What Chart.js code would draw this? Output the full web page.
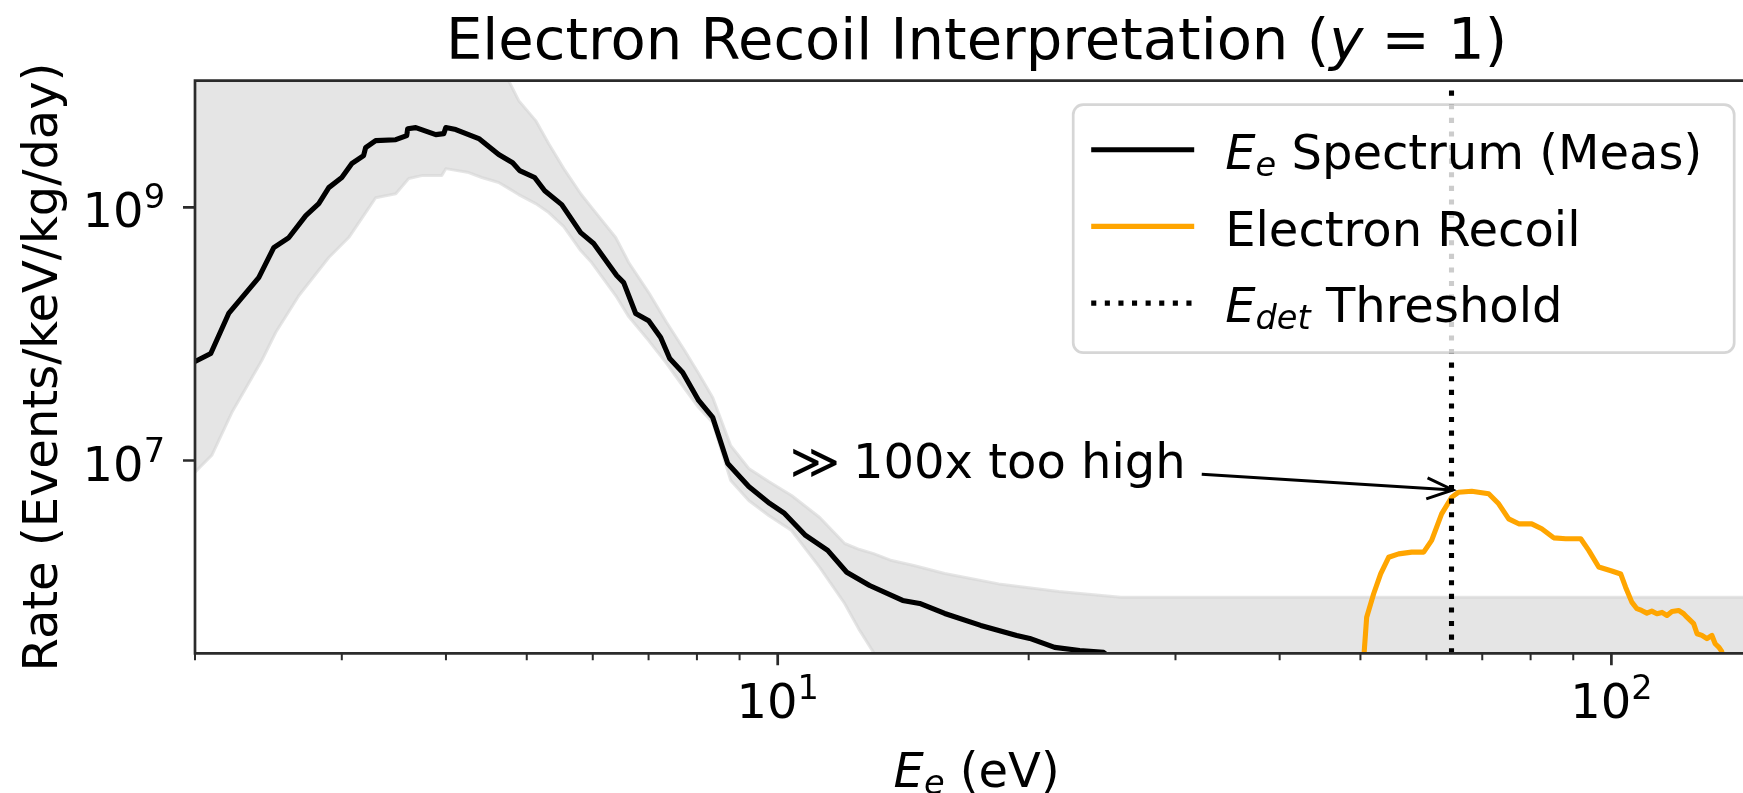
<!DOCTYPE html>
<html>
<head>
<meta charset="utf-8">
<script src="https://cdn.jsdelivr.net/npm/chart.js@4/dist/chart.umd.min.js"></script>
<style>
  html, body { margin: 0; padding: 0; overflow: hidden; background: #fff; }
  #wrap { width: 1762px; height: 793px; }
</style>
</head>
<body>
<div id="wrap"><canvas id="c" width="1762" height="793"></canvas></div>
<script>
// Measured electron-energy spectrum (eV, events/keV/kg/day)
const spectrumEnergy = [2.0, 2.089, 2.195, 2.385, 2.486, 2.592, 2.716, 2.815, 2.894, 3.0, 3.083, 3.186, 3.204, 3.294, 3.482, 3.589, 3.599, 3.68, 3.889, 3.976, 3.998, 4.11, 4.38, 4.627, 4.809, 4.903, 5.11, 5.254, 5.507, 5.803, 6.015, 6.41, 6.535, 6.755, 7.002, 7.238, 7.421, 7.692, 8.038, 8.356, 8.71, 9.231, 9.781, 10.19, 10.8, 11.48, 12.1, 12.89, 14.12, 14.8, 15.86, 17.52, 19.35, 20.06, 21.49, 23.03, 24.6, 27.1];
const spectrumRate = [6.05e7, 7.0e7, 1.45e8, 2.78e8, 4.81e8, 5.77e8, 8.6e8, 1.07e9, 1.43e9, 1.72e9, 2.21e9, 2.56e9, 2.96e9, 3.36e9, 3.42e9, 3.68e9, 4.18e9, 4.26e9, 3.75e9, 3.82e9, 4.26e9, 4.11e9, 3.49e9, 2.61e9, 2.25e9, 1.95e9, 1.72e9, 1.35e9, 1.05e9, 6.31e8, 5.17e8, 2.89e8, 2.54e8, 1.45e8, 1.27e8, 9.36e7, 6.39e7, 4.95e7, 2.98e7, 2.19e7, 9.47e6, 6.23e6, 4.58e6, 3.82e6, 2.56e6, 1.95e6, 1.31e6, 1.03e6, 7.85e5, 7.43e5, 6.19e5, 4.98e5, 4.15e5, 3.93e5, 3.34e5, 3.16e5, 3.05e5, 1.83e5];

// Uncertainty band around the measured spectrum
const bandEnergy = [2.0, 2.095, 2.214, 2.405, 2.5, 2.665, 2.894, 3.058, 3.204, 3.294, 3.482, 3.609, 3.741, 3.954, 3.998, 4.26, 4.416, 4.627, 4.756, 4.89, 5.125, 5.313, 5.538, 5.803, 5.982, 6.392, 6.626, 7.002, 7.359, 7.733, 8.038, 8.356, 8.783, 9.231, 9.754, 10.39, 11.23, 12.03, 12.54, 13.03, 13.7, 14.56, 15.86, 18.41, 21.73, 25.78, 150];
const bandUpper = [1e10, 1e10, 1e10, 1e10, 1e10, 1e10, 1e10, 1e10, 1e10, 1e10, 1e10, 1e10, 1e10, 1e10, 1e10, 1e10, 1e10, 1e10, 1e10, 6.96e9, 4.84e9, 3.18e9, 2.02e9, 1.28e9, 9.95e8, 5.77e8, 3.66e8, 2.12e8, 1.23e8, 7.39e7, 4.86e7, 3.14e7, 1.31e7, 8.65e6, 6.83e6, 5.29e6, 3.55e6, 2.21e6, 1.98e6, 1.84e6, 1.62e6, 1.48e6, 1.28e6, 1.06e6, 9.24e5, 8.33e5, 8.33e5];
const bandLower = [8.08e6, 1.10e7, 2.39e7, 6.16e7, 1.03e8, 2.01e8, 4.01e8, 5.77e8, 9.08e8, 1.19e9, 1.28e9, 1.69e9, 1.78e9, 1.78e9, 2.02e9, 1.88e9, 1.72e9, 1.57e9, 1.41e9, 1.26e9, 1.07e9, 9.08e8, 7.04e8, 4.55e8, 3.66e8, 2.01e8, 1.37e8, 8.86e7, 5.83e7, 3.70e7, 2.62e7, 2.00e7, 6.95e6, 4.83e6, 3.68e6, 2.80e6, 1.43e6, 7.43e5, 4.55e5, 3.05e5, 1.27e5, 1.27e5, 1.27e5, 1.27e5, 1.27e5, 1.27e5, 1.27e5];

// Electron-recoil prediction
const recoilEnergy = [50.04, 50.87, 51.86, 52.87, 54.05, 55.57, 57.6, 59.54, 60.87, 62.57, 64.33, 65.58, 67.99, 71.26, 73.25, 75.3, 77.41, 80.24, 82.49, 85.26, 88.15, 91.88, 93.93, 96.56, 100.1, 102.6, 104.0, 105.8, 107.3, 108.7, 110.3, 111.8, 113.4, 115.0, 116.6, 118.2, 120.4, 122.1, 123.2, 125.5, 126.7, 128.4, 130.2, 132.0, 133.2, 134.5, 135.6, 137.1];
const recoilRate = [1.27e5, 5.79e5, 8.86e5, 1.27e6, 1.72e6, 1.83e6, 1.89e6, 1.89e6, 2.34e6, 3.79e6, 5.13e6, 5.62e6, 5.72e6, 5.46e6, 4.55e6, 3.46e6, 3.16e6, 3.16e6, 2.89e6, 2.45e6, 2.41e6, 2.41e6, 1.95e6, 1.44e6, 1.34e6, 1.27e6, 9.99e5, 7.61e5, 6.75e5, 6.54e5, 6.23e5, 6.46e5, 6.16e5, 6.31e5, 5.97e5, 6.42e5, 6.54e5, 6.16e5, 5.79e5, 5.14e5, 4.28e5, 4.15e5, 3.91e5, 4.15e5, 3.57e5, 3.36e5, 3.12e5, 2.16e5];

// Detector threshold (eV)
const thresholdEnergy = 64.3;

// Axis limits and ticks
const xLimits = [2, 150];
const yLimits = [3e5, 1e10];
const xMajorTicks = [10, 100];
const xMajorLabels = ['10^1', '10^2'];
const xMinorTicks = [2, 3, 4, 5, 6, 7, 8, 9, 20, 30, 40, 50, 60, 70, 80, 90];
const yMajorTicks = [1e7, 1e9];
const yMajorLabels = ['10^7', '10^9'];

// Annotation: text anchor and arrow target (data coordinates)
const noteSymbol = '\u226B';
const noteText = '100x too high';
const noteAnchor = [10, 1e7];
const noteTarget = [65.8, 5.8e6];

const FAMILY = '"DejaVu Sans", "Liberation Sans", sans-serif';
const BASE = 48, SMALL = 33.6, TITLE = 57.6;
const SPINE = '#2b2b2b';
const ORANGE = '#FFA500';
const DOT = [5.1, 8.5];

function fnt(size, italic) { return (italic ? 'italic ' : '') + size + 'px ' + FAMILY; }
// parts: [text, size, italic, dy]
function richWidth(ctx, parts) {
  let w = 0;
  for (const p of parts) { ctx.font = fnt(p[1], p[2]); w += ctx.measureText(p[0]).width; }
  return w;
}
function drawRich(ctx, parts, x, y) {
  let cx = x;
  for (const p of parts) {
    ctx.font = fnt(p[1], p[2]);
    ctx.fillText(p[0], cx, y + (p[3] || 0));
    cx += ctx.measureText(p[0]).width;
  }
  return cx;
}
function powParts(label) {
  const [b, e] = label.split('^');
  return [[b, BASE, false, 0], [e, SMALL, false, -19]];
}

const titleParts = [['Electron Recoil Interpretation (', TITLE, false], ['y', TITLE, true], [' = 1)', TITLE, false]];
const xLabelParts = [['E', BASE, true], ['e', SMALL, true, 7], [' (eV)', BASE, false]];
const yLabelText = 'Rate (Events/keV/kg/day)';
const legendEntries = [
  { parts: [['E', BASE, true], ['e', SMALL, true, 7], [' Spectrum (Meas)', BASE, false]], color: '#000', dash: [] },
  { parts: [['Electron Recoil', BASE, false]], color: ORANGE, dash: [] },
  { parts: [['E', BASE, true], ['det', SMALL, true, 7], [' Threshold', BASE, false]], color: '#000', dash: DOT }
];

const decor = {
  id: 'decor',
  afterDatasetsDraw(chart) {
    const { ctx, chartArea: a, scales: { x, y } } = chart;
    ctx.save();
    ctx.fillStyle = '#000';
    ctx.textAlign = 'left';
    ctx.textBaseline = 'alphabetic';

    // annotation text + arrow
    const ax = x.getPixelForValue(noteAnchor[0]);
    const ay = y.getPixelForValue(noteAnchor[1]);
    ctx.font = fnt(BASE);
    const symW = ctx.measureText(noteSymbol).width;
    ctx.fillText(noteSymbol, ax + 12, ay + 17);
    const tStart = ax + 12 + symW + 13;
    ctx.fillText(noteText, tStart, ay + 17);
    const tRight = tStart + ctx.measureText(noteText).width;
    const cx = (ax + tRight) / 2, cy = ay;
    const gx = x.getPixelForValue(noteTarget[0]);
    const gy = y.getPixelForValue(noteTarget[1]);
    const len = Math.hypot(gx - cx, gy - cy);
    const ux = (gx - cx) / len, uy = (gy - cy) / len;
    const tipX = gx - 7 * ux, tipY = gy - 7 * uy;
    const t0 = (tRight + 16 - cx) / ux;
    const sX = cx + t0 * ux, sY = cy + t0 * uy;
    ctx.strokeStyle = '#000';
    ctx.lineWidth = 3;
    ctx.lineCap = 'butt';
    ctx.lineJoin = 'miter';
    ctx.beginPath();
    ctx.moveTo(sX, sY); ctx.lineTo(tipX, tipY);
    ctx.stroke();
    const hl = 26, hw = 10.5;
    ctx.beginPath();
    ctx.moveTo(tipX - hl * ux - hw * uy, tipY - hl * uy + hw * ux);
    ctx.lineTo(tipX, tipY);
    ctx.lineTo(tipX - hl * ux + hw * uy, tipY - hl * uy - hw * ux);
    ctx.stroke();

    // spines
    ctx.strokeStyle = SPINE;
    ctx.lineWidth = 2.7;
    ctx.lineJoin = 'miter';
    ctx.beginPath();
    ctx.moveTo(a.right, a.top); ctx.lineTo(a.left, a.top);
    ctx.lineTo(a.left, a.bottom); ctx.lineTo(a.right, a.bottom);
    ctx.stroke();

    // ticks
    ctx.lineWidth = 2.7;
    ctx.beginPath();
    for (const v of xMajorTicks) {
      const px = x.getPixelForValue(v);
      ctx.moveTo(px, a.bottom); ctx.lineTo(px, a.bottom + 12);
    }
    for (const v of yMajorTicks) {
      const py = y.getPixelForValue(v);
      ctx.moveTo(a.left, py); ctx.lineTo(a.left - 12, py);
    }
    ctx.stroke();
    ctx.lineWidth = 2.0;
    ctx.beginPath();
    for (const v of xMinorTicks) {
      const px = x.getPixelForValue(v);
      ctx.moveTo(px, a.bottom); ctx.lineTo(px, a.bottom + 7);
    }
    ctx.stroke();

    // tick labels
    ctx.fillStyle = '#000';
    xMajorTicks.forEach((v, i) => {
      const parts = powParts(xMajorLabels[i]);
      const w = richWidth(ctx, parts);
      drawRich(ctx, parts, x.getPixelForValue(v) - w / 2, a.bottom + 64.7);
    });
    yMajorTicks.forEach((v, i) => {
      const parts = powParts(yMajorLabels[i]);
      const w = richWidth(ctx, parts);
      drawRich(ctx, parts, a.left - 30 - w, y.getPixelForValue(v) + 20);
    });

    // title and axis labels
    const midX = (a.left + a.right) / 2;
    let w = richWidth(ctx, titleParts);
    drawRich(ctx, titleParts, midX - w / 2, 59);
    w = richWidth(ctx, xLabelParts);
    drawRich(ctx, xLabelParts, midX - w / 2, 786.7);
    ctx.save();
    ctx.translate(57.3, (a.top + a.bottom) / 2);
    ctx.rotate(-Math.PI / 2);
    ctx.font = fnt(BASE);
    ctx.textAlign = 'center';
    ctx.fillText(yLabelText, 0, 0);
    ctx.restore();

    // legend
    const lw = 661, lh = 248;
    const lx = a.right - 24 - lw, ly = a.top + 24;
    ctx.beginPath();
    ctx.roundRect(lx, ly, lw, lh, 10);
    ctx.fillStyle = 'rgba(255,255,255,0.8)';
    ctx.fill();
    ctx.strokeStyle = 'rgba(204,204,204,0.8)';
    ctx.lineWidth = 2.7;
    ctx.stroke();
    legendEntries.forEach((e, i) => {
      const ry = ly + 45 + i * 76.7;
      ctx.strokeStyle = e.color;
      ctx.lineWidth = 5.1;
      ctx.lineCap = 'butt';
      ctx.setLineDash(e.dash);
      ctx.beginPath();
      ctx.moveTo(lx + 18, ry); ctx.lineTo(lx + 121, ry);
      ctx.stroke();
      ctx.setLineDash([]);
      ctx.fillStyle = '#000';
      drawRich(ctx, e.parts, lx + 152, ry + 19.3);
    });
    ctx.restore();
  }
};

const pts = (xs, ys) => xs.map((v, i) => ({ x: v, y: ys[i] }));

new Chart(document.getElementById('c'), {
  type: 'line',
  data: {
    datasets: [
      {
        label: 'band upper', data: pts(bandEnergy, bandUpper), fill: '+1',
        backgroundColor: 'rgba(211,211,211,0.6)', borderColor: 'rgba(211,211,211,0.6)',
        borderWidth: 3, order: 5
      },
      {
        label: 'band lower', data: pts(bandEnergy, bandLower), fill: false,
        borderColor: 'rgba(211,211,211,0.6)', borderWidth: 3, order: 4
      },
      {
        label: 'E_e Spectrum (Meas)', data: pts(spectrumEnergy, spectrumRate), fill: false,
        borderColor: '#000', borderWidth: 5.1, order: 3
      },
      {
        label: 'Electron Recoil', data: pts(recoilEnergy, recoilRate), fill: false,
        borderColor: ORANGE, borderWidth: 5.1, order: 2
      },
      {
        label: 'E_det Threshold',
        data: [{ x: thresholdEnergy, y: yLimits[0] }, { x: thresholdEnergy, y: yLimits[1] }],
        fill: false, borderColor: '#000', borderWidth: 5.1, borderDash: DOT,
        borderCapStyle: 'butt', order: 1
      }
    ]
  },
  options: {
    responsive: false,
    animation: false,
    devicePixelRatio: 1,
    events: [],
    layout: { padding: { left: 195, top: 80.7, right: 3.8, bottom: 139.7 } },
    elements: {
      point: { radius: 0, hoverRadius: 0 },
      line: { tension: 0, borderJoinStyle: 'round', borderCapStyle: 'butt' }
    },
    scales: {
      x: { type: 'logarithmic', min: xLimits[0], max: xLimits[1], bounds: 'data', display: false },
      y: { type: 'logarithmic', min: yLimits[0], max: yLimits[1], bounds: 'data', display: false }
    },
    plugins: { legend: { display: false }, title: { display: false }, tooltip: { enabled: false } }
  },
  plugins: [decor]
});
</script>
</body>
</html>
